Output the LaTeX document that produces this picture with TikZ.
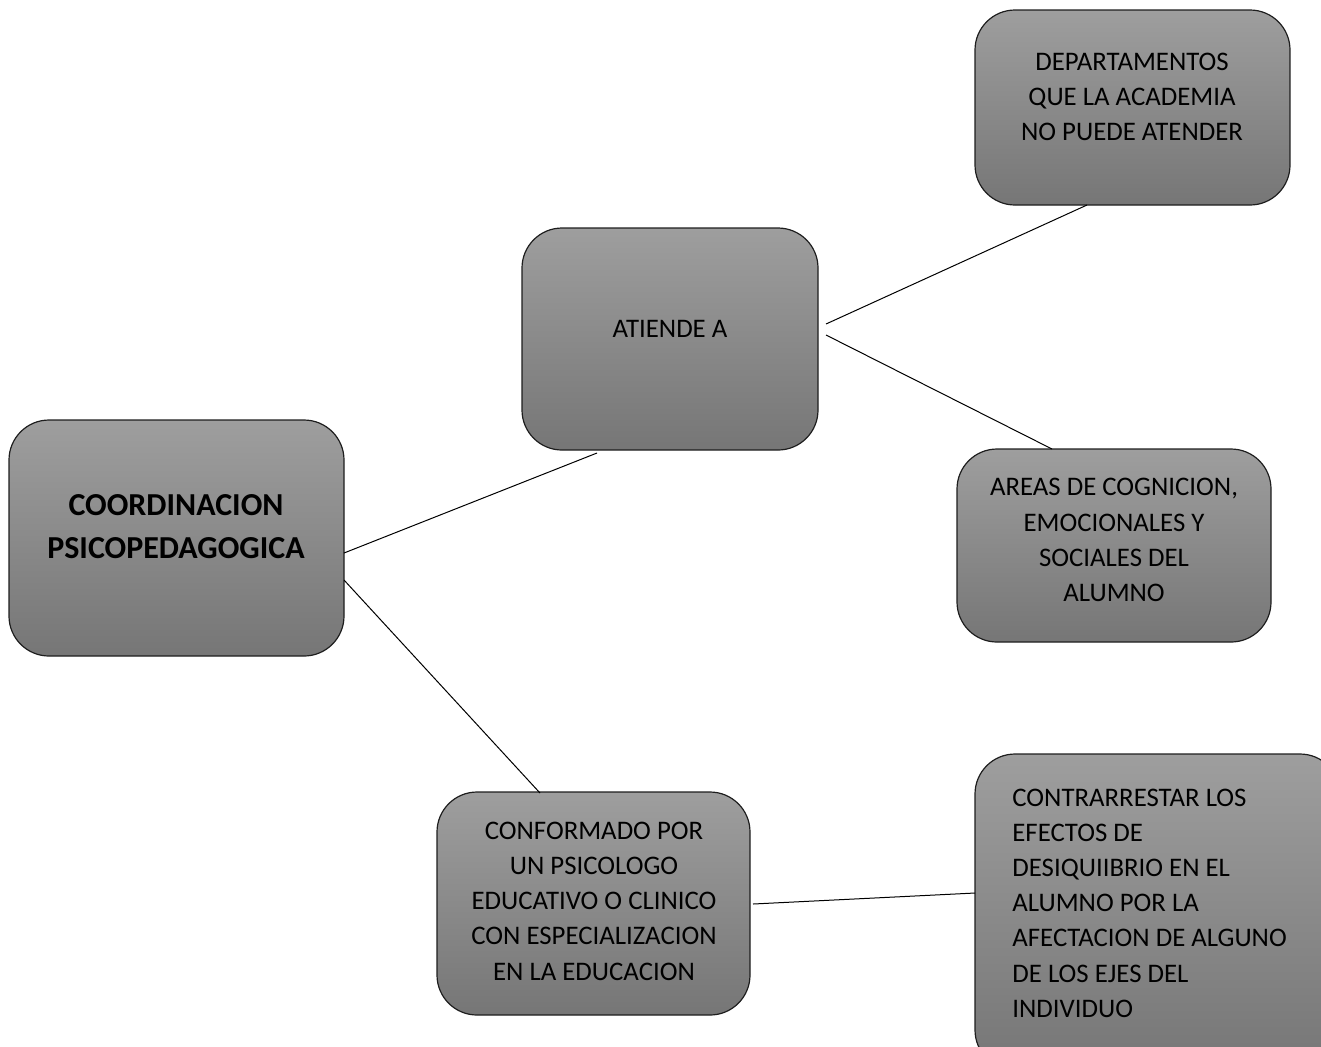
\documentclass[tikz,border=0pt]{standalone}
\usepackage{fontspec}
\setmainfont{Carlito}
\definecolor{boxtop}{RGB}{158,158,158}
\definecolor{boxbot}{RGB}{118,118,118}
\definecolor{boxline}{RGB}{30,30,30}
\tikzset{
  box/.style={draw=boxline, line width=0.6pt, rounded corners=20pt, top color=boxtop, bottom color=boxbot, inner sep=0pt},
  txt/.style={inner sep=0pt, align=center, font=\fontsize{13.4}{17.6}\selectfont},
  ttl/.style={inner sep=0pt, align=center, font=\fontsize{16}{21.5}\selectfont\bfseries},
  conn/.style={draw=black, line width=0.5pt}
}
\begin{document}
\begin{tikzpicture}[x=0.5pt,y=-0.5pt]
\useasboundingbox (0,0) rectangle (1321,1046);
\clip (0,0) rectangle (1321,1046);
% boxes
\path[box] (9,420) rectangle (344,656) node[pos=0.5,inner sep=0pt] (coord) {};
\path[box] (522,228) rectangle (818,450) node[pos=0.5,inner sep=0pt] (atiende) {};
\path[box] (975,10) rectangle (1290,205) node[pos=0.5,inner sep=0pt] (deptos) {};
\path[box] (957,449) rectangle (1271,642) node[pos=0.5,inner sep=0pt] (areas) {};
\path[box] (437,792) rectangle (750,1015) node[pos=0.5,inner sep=0pt] (conform) {};
\path[box] (975,754) rectangle (1340,1070) node[pos=0.5,inner sep=0pt] (contra) {};
% texts
\node[ttl] (tcoord) at (176,527) {COORDINACION\\PSICOPEDAGOGICA};
\node[txt] (tatiende) at (670,329) {ATIENDE A};
\node[txt] (tdeptos) at (1132,97) {DEPARTAMENTOS\\QUE LA ACADEMIA\\NO PUEDE ATENDER};
\node[txt] (tareas) at (1114,540) {AREAS DE COGNICION,\\EMOCIONALES Y\\SOCIALES DEL\\ALUMNO};
\node[txt] (tconform) at (594,901) {CONFORMADO POR\\UN PSICOLOGO\\EDUCATIVO O CLINICO\\CON ESPECIALIZACION\\EN LA EDUCACION};
\node[txt, align=left, anchor=west] (tcontra) at (1012,903) {CONTRARRESTAR LOS\\EFECTOS DE\\DESIQUIIBRIO EN EL\\ALUMNO POR LA\\AFECTACION DE ALGUNO\\DE LOS EJES DEL\\INDIVIDUO};
% connector end points
\coordinate (c1a) at (344,553); \coordinate (c1b) at (597,453);
\coordinate (c2a) at (344,580); \coordinate (c2b) at (540,793);
\coordinate (c3a) at (826,324); \coordinate (c3b) at (1087,205);
\coordinate (c4a) at (826,335); \coordinate (c4b) at (1052,449);
\coordinate (c5a) at (753,904); \coordinate (c5b) at (975,893);
\draw[conn] (c1a) -- (c1b);
\draw[conn] (c2a) -- (c2b);
\draw[conn] (c3a) -- (c3b);
\draw[conn] (c4a) -- (c4b);
\draw[conn] (c5a) -- (c5b);
\end{tikzpicture}
\end{document}
